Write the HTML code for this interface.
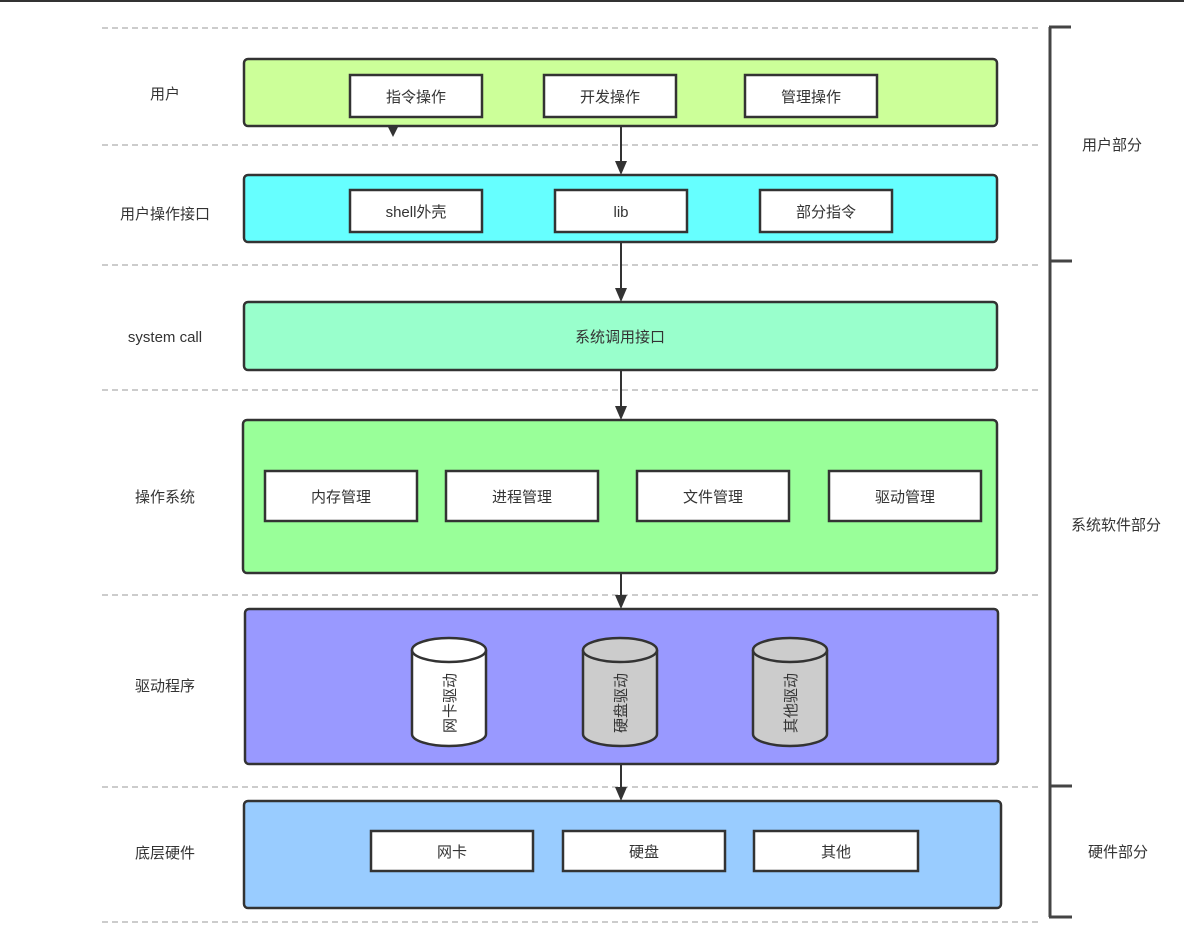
<!DOCTYPE html>
<html><head><meta charset="utf-8"><style>
html,body{margin:0;padding:0;background:#fff;width:1184px;height:944px;overflow:hidden}
svg text{font-family:"Liberation Sans","Noto Sans CJK SC",sans-serif;fill:#333;font-size:15px}
</style></head><body>
<svg width="1184" height="944" viewBox="0 0 1184 944" xmlns="http://www.w3.org/2000/svg">
<rect x="0" y="0" width="1184" height="2" fill="#333"/>
<g stroke="#ccc" stroke-width="2" stroke-dasharray="6,4">
<line x1="102" y1="28" x2="1042" y2="28"/>
<line x1="102" y1="145" x2="1042" y2="145"/>
<line x1="102" y1="265" x2="1042" y2="265"/>
<line x1="102" y1="390" x2="1042" y2="390"/>
<line x1="102" y1="595" x2="1042" y2="595"/>
<line x1="102" y1="787" x2="1042" y2="787"/>
<line x1="102" y1="922" x2="1042" y2="922"/>
</g>
<g stroke="#444" stroke-width="3" fill="none">
<line x1="1050" y1="27" x2="1050" y2="917"/>
<line x1="1049" y1="27" x2="1071" y2="27"/>
<line x1="1049" y1="261" x2="1072" y2="261"/>
<line x1="1049" y1="786" x2="1072" y2="786"/>
<line x1="1049" y1="917" x2="1072" y2="917"/>
</g>
<text x="1112" y="150" text-anchor="middle">用户部分</text>
<text x="1116" y="530" text-anchor="middle">系统软件部分</text>
<text x="1118" y="857" text-anchor="middle">硬件部分</text>
<text x="165" y="99" text-anchor="middle">用户</text>
<text x="165" y="219" text-anchor="middle">用户操作接口</text>
<text x="165" y="342" text-anchor="middle">system call</text>
<text x="165" y="502" text-anchor="middle">操作系统</text>
<text x="165" y="691" text-anchor="middle">驱动程序</text>
<text x="165" y="858" text-anchor="middle">底层硬件</text>
<g stroke="#333" stroke-width="2">
<line x1="621" y1="126" x2="621" y2="164"/>
<line x1="621" y1="242" x2="621" y2="291"/>
<line x1="621" y1="370" x2="621" y2="409"/>
<line x1="621" y1="573" x2="621" y2="598"/>
<line x1="621" y1="764" x2="621" y2="790"/>
</g>
<g fill="#333">
<path d="M615,161 L627,161 L621,175 z"/>
<path d="M615,288 L627,288 L621,302 z"/>
<path d="M615,406 L627,406 L621,420 z"/>
<path d="M615,595 L627,595 L621,609 z"/>
<path d="M615,787 L627,787 L621,801 z"/>
<path d="M388,127 L398,127 L393,137 z"/>
</g>
<g stroke="#333" stroke-width="2.5">
<rect x="244" y="59" width="753" height="67" rx="4" fill="#ccff99"/>
<rect x="244" y="175" width="753" height="67" rx="4" fill="#66ffff"/>
<rect x="244" y="302" width="753" height="68" rx="4" fill="#99ffcc"/>
<rect x="243" y="420" width="754" height="153" rx="4" fill="#99ff99"/>
<rect x="245" y="609" width="753" height="155" rx="4" fill="#9999ff"/>
<rect x="244" y="801" width="757" height="107" rx="4" fill="#99ccff"/>
</g>
<g stroke="#333" stroke-width="2.5" fill="#fff">
<rect x="350" y="75" width="132" height="42"/>
<rect x="544" y="75" width="132" height="42"/>
<rect x="745" y="75" width="132" height="42"/>
<rect x="350" y="190" width="132" height="42"/>
<rect x="555" y="190" width="132" height="42"/>
<rect x="760" y="190" width="132" height="42"/>
<rect x="265" y="471" width="152" height="50"/>
<rect x="446" y="471" width="152" height="50"/>
<rect x="637" y="471" width="152" height="50"/>
<rect x="829" y="471" width="152" height="50"/>
<rect x="371" y="831" width="162" height="40"/>
<rect x="563" y="831" width="162" height="40"/>
<rect x="754" y="831" width="164" height="40"/>
</g>
<g text-anchor="middle">
<text x="416" y="102">指令操作</text>
<text x="610" y="102">开发操作</text>
<text x="811" y="102">管理操作</text>
<text x="416" y="217">shell外壳</text>
<text x="621" y="217">lib</text>
<text x="826" y="217">部分指令</text>
<text x="620" y="342">系统调用接口</text>
<text x="341" y="502">内存管理</text>
<text x="522" y="502">进程管理</text>
<text x="713" y="502">文件管理</text>
<text x="905" y="502">驱动管理</text>
<text x="452" y="857">网卡</text>
<text x="644" y="857">硬盘</text>
<text x="836" y="857">其他</text>
</g>
<g stroke="#333" stroke-width="2.5">
<path d="M412,650 L412,734 A37,12 0 0 0 486,734 L486,650" fill="#fff"/>
<ellipse cx="449" cy="650" rx="37" ry="12" fill="#fff"/>
<path d="M583,650 L583,734 A37,12 0 0 0 657,734 L657,650" fill="#ccc"/>
<ellipse cx="620" cy="650" rx="37" ry="12" fill="#ccc"/>
<path d="M753,650 L753,734 A37,12 0 0 0 827,734 L827,650" fill="#ccc"/>
<ellipse cx="790" cy="650" rx="37" ry="12" fill="#ccc"/>
</g>
<g text-anchor="middle">
<text transform="translate(455,703) rotate(-90)">网卡驱动</text>
<text transform="translate(626,703) rotate(-90)">硬盘驱动</text>
<text transform="translate(796,703) rotate(-90)">其他驱动</text>
</g>
</svg>
</body></html>
